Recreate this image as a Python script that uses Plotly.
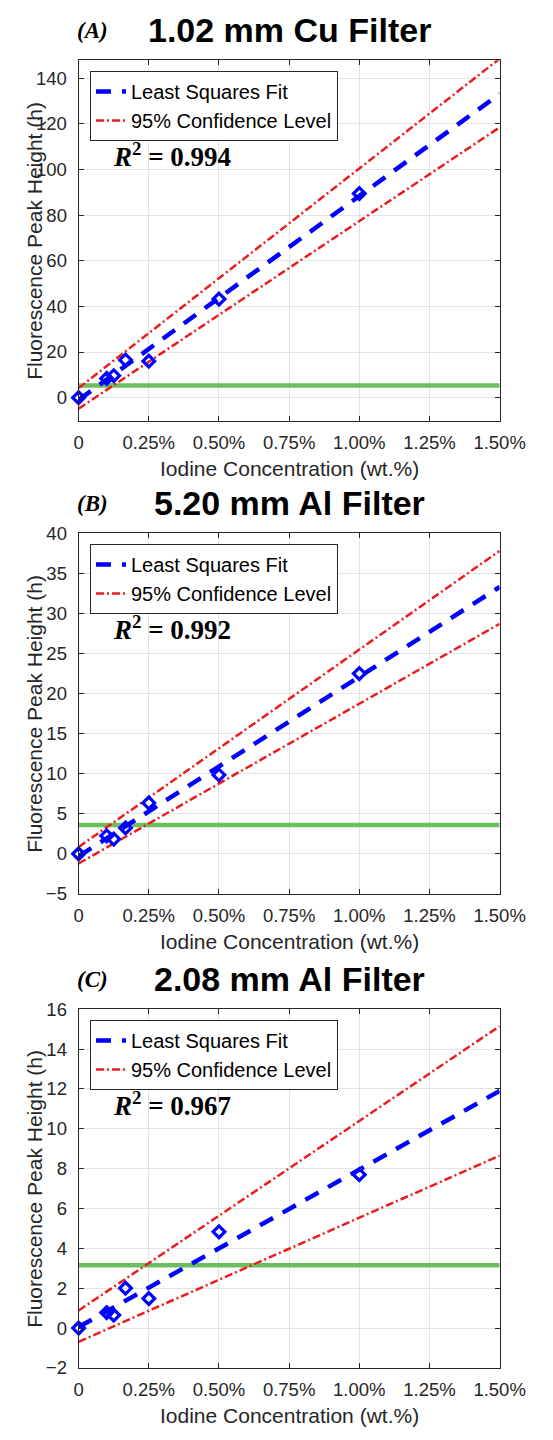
import plotly.graph_objects as go

W, H = 553, 1440

# ---------------- data ----------------
conc = [0, 0.1, 0.125, 0.167, 0.25, 0.5, 1.0]          # iodine wt.%
peak_A = [0, 8.4, 9.6, 16.5, 16.0, 43.2, 89.4]
peak_B = [0, 2.25, 1.85, 3.24, 6.35, 9.84, 22.5]
peak_C = [0, 0.78, 0.65, 2.0, 1.48, 4.83, 7.7]

line_x = [0, 1.5]
fit_A = [-1.0, 133.0]
up_A = [4.2, 148.5]
lo_A = [-4.8, 118.4]
fit_B = [-0.3, 33.3]
up_B = [0.86, 37.8]
lo_B = [-1.2, 28.7]
fit_C = [0.05, 11.9]
up_C = [0.88, 15.15]
lo_C = [-0.69, 8.65]

limit_A = 5.3
limit_B = 3.6
limit_C = 3.15

r2_A, r2_B, r2_C = "0.994", "0.992", "0.967"
titles = ["1.02 mm Cu Filter", "5.20 mm Al Filter", "2.08 mm Al Filter"]
tags = ["(A)", "(B)", "(C)"]

x_ticks = [0, 0.25, 0.5, 0.75, 1.0, 1.25, 1.5]
x_ticktext = ["0", "0.25%", "0.50%", "0.75%", "1.00%", "1.25%", "1.50%"]
y_ticks_A = [0, 20, 40, 60, 80, 100, 120, 140]
y_ticks_B = [-5, 0, 5, 10, 15, 20, 25, 30, 35, 40]
y_ticks_C = [-2, 0, 2, 4, 6, 8, 10, 12, 14, 16]
y_range_A = [-10.2, 147.8]
y_range_B = [-5, 40]
y_range_C = [-2, 16]

# ---------------- style ----------------
BLUE = "#0000ff"
RED = "#ec1c1c"
GREEN = "#6cbf5e"
AX = "#262626"
GRID = "#e3e3e3"
SANS = "Liberation Sans, Arial, sans-serif"
SERIF = "Liberation Serif, Times New Roman, serif"

# pixel geometry (top, bottom) of each plot area
X0, X1 = 78, 524
panels = [(50, 416), (530, 896), (1013, 1377)]

fig = go.Figure()

datasets = [
    (peak_A, fit_A, up_A, lo_A, limit_A, r2_A, y_ticks_A, y_range_A),
    (peak_B, fit_B, up_B, lo_B, limit_B, r2_B, y_ticks_B, y_range_B),
    (peak_C, fit_C, up_C, lo_C, limit_C, r2_C, y_ticks_C, y_range_C),
]

annotations = []
for i, (peak, fit, up, lo, lim, r2, yt, yr) in enumerate(datasets):
    n = "" if i == 0 else str(i + 1)
    xa, ya = "x" + n, "y" + n
    leg = "legend" + n
    top, bot = panels[i]

    fig.add_trace(go.Scatter(x=line_x, y=[lim, lim], mode="lines",
                             line=dict(color=GREEN, width=4.5), xaxis=xa, yaxis=ya,
                             showlegend=False, hoverinfo="skip"))
    fig.add_trace(go.Scatter(x=line_x, y=fit, mode="lines", name="Least Squares Fit",
                             line=dict(color=BLUE, width=4.5, dash="15px,11px"),
                             xaxis=xa, yaxis=ya, legend=leg))
    fig.add_trace(go.Scatter(x=line_x, y=up, mode="lines", name="95% Confidence Level",
                             line=dict(color=RED, width=2.5, dash="8px,3px,2px,3px"),
                             xaxis=xa, yaxis=ya, legend=leg))
    fig.add_trace(go.Scatter(x=line_x, y=lo, mode="lines", name="95% Confidence Level",
                             line=dict(color=RED, width=2.5, dash="8px,3px,2px,3px"),
                             xaxis=xa, yaxis=ya, showlegend=False))
    fig.add_trace(go.Scatter(x=conc, y=peak, mode="markers",
                             marker=dict(symbol="diamond-open", size=9, color=BLUE,
                                         line=dict(color=BLUE, width=3.2)),
                             xaxis=xa, yaxis=ya, showlegend=False, cliponaxis=False))

    common = dict(showline=True, linecolor=AX, linewidth=1, mirror="ticks",
                  ticks="inside", ticklen=5, tickcolor=AX, showgrid=True,
                  gridcolor=GRID, gridwidth=1, zeroline=False,
                  tickfont=dict(family=SANS, size=18.5, color=AX))
    fig.update_layout(**{
        "xaxis" + n: dict(domain=[X0 / W, X1 / W], range=[0, 1.5], tickvals=x_ticks,
                          ticktext=x_ticktext, anchor=ya, ticklabelstandoff=5, **common),
        "yaxis" + n: dict(domain=[1 - bot / H, 1 - top / H], range=yr, tickvals=yt,
                          anchor=xa, ticklabelstandoff=7, **common),
        leg: dict(x=90 / W, y=1 - (top + 11) / H, xanchor="left", yanchor="top",
                  bgcolor="white", bordercolor=AX, borderwidth=1,
                  font=dict(family=SANS, size=20, color="black"),
                  tracegroupgap=0, itemwidth=30),
    })

    # titles
    annotations.append(dict(x=(X0 + X1) / 2 / W, y=1 - (top - 31) / H, xref="paper", yref="paper",
                            text="<b>" + titles[i] + "</b>", showarrow=False,
                            font=dict(family=SANS, size=34, color="black"),
                            xanchor="center", yanchor="middle"))
    annotations.append(dict(x=93 / W, y=1 - (top - 30) / H, xref="paper", yref="paper",
                            text="<b><i>" + tags[i] + "</i></b>", showarrow=False,
                            font=dict(family=SERIF, size=23, color="black"),
                            xanchor="center", yanchor="middle"))
    # R^2
    annotations.append(dict(x=112 / W, y=1 - (top + 96) / H, xref="paper", yref="paper",
                            text="<b><i>R</i><sup>2</sup> = " + r2 + "</b>", showarrow=False,
                            font=dict(family=SERIF, size=27, color="black"),
                            xanchor="left", yanchor="middle"))
    # axis titles
    annotations.append(dict(x=(X0 + X1) / 2 / W, y=1 - (bot + 48) / H, xref="paper", yref="paper",
                            text="Iodine Concentration (wt.%)", showarrow=False,
                            font=dict(family=SANS, size=21, color=AX),
                            xanchor="center", yanchor="middle"))
    annotations.append(dict(x=31 / W, y=1 - (top + bot) / 2 / H, xref="paper", yref="paper",
                            text="Fluorescence Peak Height (h)", showarrow=False, textangle=-90,
                            font=dict(family=SANS, size=21, color=AX),
                            xanchor="center", yanchor="middle"))

fig.update_layout(width=W, height=H, margin=dict(l=0, r=0, t=0, b=0),
                  paper_bgcolor="white", plot_bgcolor="white",
                  annotations=annotations)

fig.write_html("out.html")
